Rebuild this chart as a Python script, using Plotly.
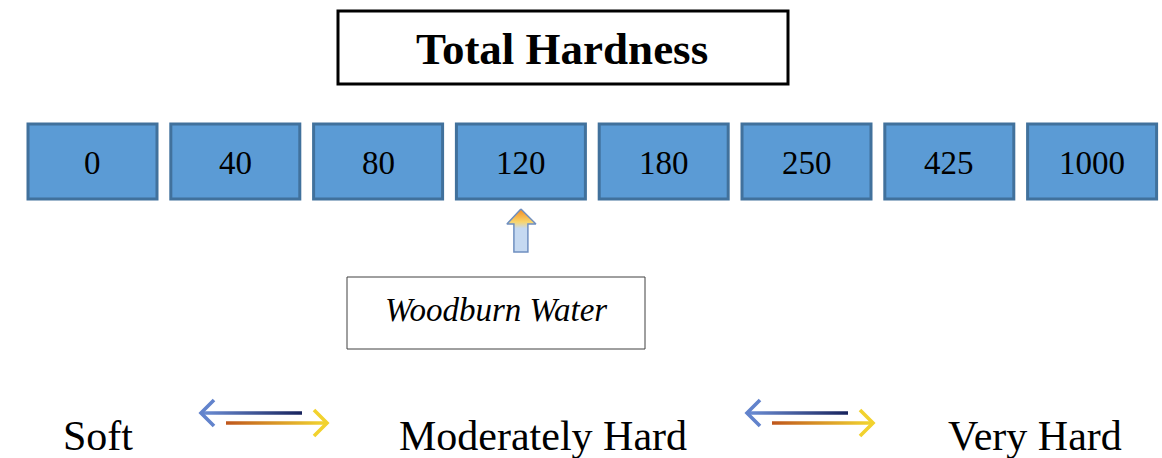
import plotly.graph_objects as go

# ---------------- data ----------------
chart_title = "Total Hardness"
hardness_levels = [0, 40, 80, 120, 180, 250, 425, 1000]
marker_value = 120
marker_label = "Woodburn Water"
scale_labels = ["Soft", "Moderately Hard", "Very Hard"]

# ---------------- layout constants (pixels) ----------------
W, H = 1162, 458
box_left0, box_pitch, box_w = 28, 142.8, 129
box_top, box_bot = 124, 199
box_fill, box_line = "#5B9BD5", "#41719C"
serif = "Liberation Serif, Times New Roman, serif"

fig = go.Figure()
shapes, annotations = [], []

# title box
shapes.append(dict(type="rect", x0=338, x1=788, y0=11, y1=84,
                   line=dict(color="black", width=3), fillcolor="white"))
annotations.append(dict(x=562, y=49, text="<b>%s</b>" % chart_title, showarrow=False,
                        font=dict(family=serif, size=45, color="black"),
                        xanchor="center", yanchor="middle"))

# hardness boxes
centers = {}
for i, v in enumerate(hardness_levels):
    x0 = box_left0 + i * box_pitch
    x1 = x0 + box_w
    centers[v] = (x0 + x1) / 2
    shapes.append(dict(type="rect", x0=x0, x1=x1, y0=box_top, y1=box_bot,
                       line=dict(color=box_line, width=3), fillcolor=box_fill))
    annotations.append(dict(x=(x0 + x1) / 2, y=(box_top + box_bot) / 2 + 1, text=str(v),
                            showarrow=False, font=dict(family=serif, size=33, color="black"),
                            xanchor="center", yanchor="middle"))

# up arrow under marker value
cx = centers[marker_value]
ax = [cx, cx + 15, cx + 7, cx + 7, cx - 7, cx - 7, cx - 14, cx]
ay = [209, 224, 224, 252, 252, 224, 224, 209]
fig.add_trace(go.Scatter(x=ax, y=ay, mode="lines", fill="toself",
                         line=dict(color="#6F8FC0", width=1.5),
                         fillgradient=dict(type="vertical", start=209, stop=252,
                                           colorscale=[[0, "#F28A22"], [0.3, "#F9D56A"],
                                                       [0.45, "#C5D9F1"], [1, "#C5D9F1"]]),
                         hoverinfo="skip", showlegend=False))

# marker label box
shapes.append(dict(type="rect", x0=347, x1=645, y0=277, y1=349,
                   line=dict(color="#404040", width=1), fillcolor="white"))
annotations.append(dict(x=496, y=310, text="<i>%s</i>" % marker_label, showarrow=False,
                        font=dict(family=serif, size=33, color="black"),
                        xanchor="center", yanchor="middle"))

# scale labels
label_x = [98, 543, 1035]
for lx, t in zip(label_x, scale_labels):
    annotations.append(dict(x=lx, y=H, text=t, showarrow=False, yshift=-3,
                            font=dict(family=serif, size=42, color="black"),
                            xanchor="center", yanchor="bottom"))

# double arrows between labels
def grad_bar(x0, x1, yc, c0, c1, th=3.6):
    fig.add_trace(go.Scatter(x=[x0, x1, x1, x0, x0],
                             y=[yc - th / 2, yc - th / 2, yc + th / 2, yc + th / 2, yc - th / 2],
                             mode="lines", fill="toself", line=dict(width=0, color="rgba(0,0,0,0)"),
                             fillgradient=dict(type="horizontal", start=x0, stop=x1,
                                               colorscale=[[0, c0], [1, c1]]),
                             hoverinfo="skip", showlegend=False))

def chevron(xt, yt, dx, col):
    fig.add_trace(go.Scatter(x=[xt + dx, xt, xt + dx], y=[yt - 13, yt, yt + 13], mode="lines",
                             line=dict(color=col, width=3.6), hoverinfo="skip", showlegend=False))

for L in [201, 747]:
    grad_bar(L, L + 101, 413, "#6D8FD6", "#17225C")
    chevron(L, 413, 13, "#6283CC")
    grad_bar(L + 25, L + 124, 423, "#BF561C", "#F2D530")
    chevron(L + 126, 423, -13, "#F2D22E")

fig.update_layout(
    width=W, height=H, margin=dict(l=0, r=0, t=0, b=0),
    paper_bgcolor="white", plot_bgcolor="white",
    xaxis=dict(range=[0, W], visible=False, fixedrange=True),
    yaxis=dict(range=[H, 0], visible=False, fixedrange=True),
    shapes=shapes, annotations=annotations, showlegend=False,
)
fig.write_html("out.html", config={"displayModeBar": False},
               post_script="document.body.style.margin='0';")
